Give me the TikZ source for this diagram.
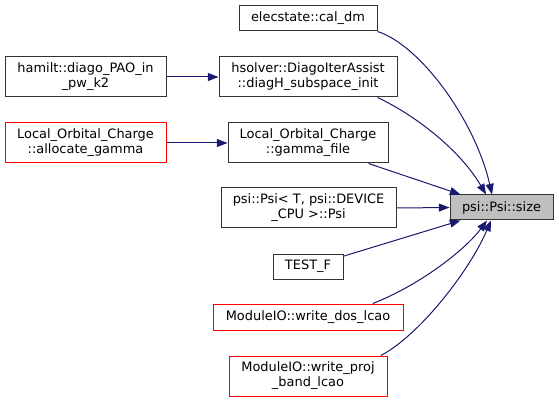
\documentclass[tikz,border=0pt]{standalone}
\usepackage{fontspec}
\setmainfont{DejaVu Sans}
\usetikzlibrary{arrows.meta}
\definecolor{edgeblue}{RGB}{25,25,112}
\definecolor{rootgray}{RGB}{191,191,191}
\begin{document}
\begin{tikzpicture}[x=0.75pt, y=-0.75pt,
  font=\fontsize{9.7}{11.2}\selectfont,
  fn/.style={draw=black!80, line width=0.75pt, align=center, inner sep=0pt},
  fnred/.style={fn, draw=red},
  call/.style={draw=edgeblue, line width=0.75pt, -{Triangle[length=8pt,width=6pt]}}]
  \useasboundingbox (0,0) rectangle (559,402);

  % Called function
  \node[fn, fill=rootgray, minimum width=77.25pt, minimum height=18.75pt] (size) at (501.5,207.5) {psi::Psi::size};

  % Direct callers
  \node[fn, minimum width=103.5pt, minimum height=18.75pt] (caldm) at (308,18.5) {elecstate::cal\_dm};
  \node[fn, minimum width=133.5pt, minimum height=30pt] (hsolver) at (308,77) {hsolver::DiagoIterAssist\\::diagH\_subspace\_init};
  \node[fn, minimum width=120pt, minimum height=30pt] (gammafile) at (308,143) {Local\_Orbital\_Charge\\::gamma\_file};
  \node[fn, minimum width=131.25pt, minimum height=30pt] (psictor) at (308.5,208) {psi::Psi< T, psi::DEVICE\\\_CPU >::Psi};
  \node[fn, minimum width=52.5pt, minimum height=18.75pt] (testf) at (308,266.5) {TEST\_F};
  \node[fnred, minimum width=142.5pt, minimum height=19.5pt] (writedos) at (308,317) {ModuleIO::write\_dos\_lcao};
  \node[fnred, minimum width=118.5pt, minimum height=30pt] (writeproj) at (308,376) {ModuleIO::write\_proj\\\_band\_lcao};

  % Callers of callers
  \node[fn, minimum width=120.75pt, minimum height=30pt] (hamilt) at (85.5,77) {hamilt::diago\_PAO\_in\\\_pw\_k2};
  \node[fnred, minimum width=120.75pt, minimum height=30pt] (allocate) at (85.5,143) {Local\_Orbital\_Charge\\::allocate\_gamma};

  % Edges
  \draw[call] (hamilt.east) -- (hsolver.west);
  \draw[call] (allocate.east) -- (gammafile.west);
  \draw[call] (caldm.south east) .. controls (420,45) and (475,120) .. ([xshift=-7.1pt]size.north);
  \draw[call] ([xshift=-15pt]hsolver.south east) .. controls (415,115) and (460,150) .. ([xshift=-11.6pt]size.north);
  \draw[call] ([xshift=-15pt]gammafile.south east) -- ([xshift=8.25pt]size.north west);
  \draw[call] (psictor.east) -- (size.west);
  \draw[call] ([yshift=-2pt]testf.north east) -- ([xshift=8.25pt]size.south west);
  \draw[call] ([xshift=-23pt]writedos.north east) .. controls (420,285) and (465,250) .. ([xshift=-10.9pt]size.south);
  \draw[call] ([xshift=-5pt]writeproj.north east) .. controls (420,335) and (470,270) .. ([xshift=-7.9pt]size.south);
\end{tikzpicture}
\end{document}
